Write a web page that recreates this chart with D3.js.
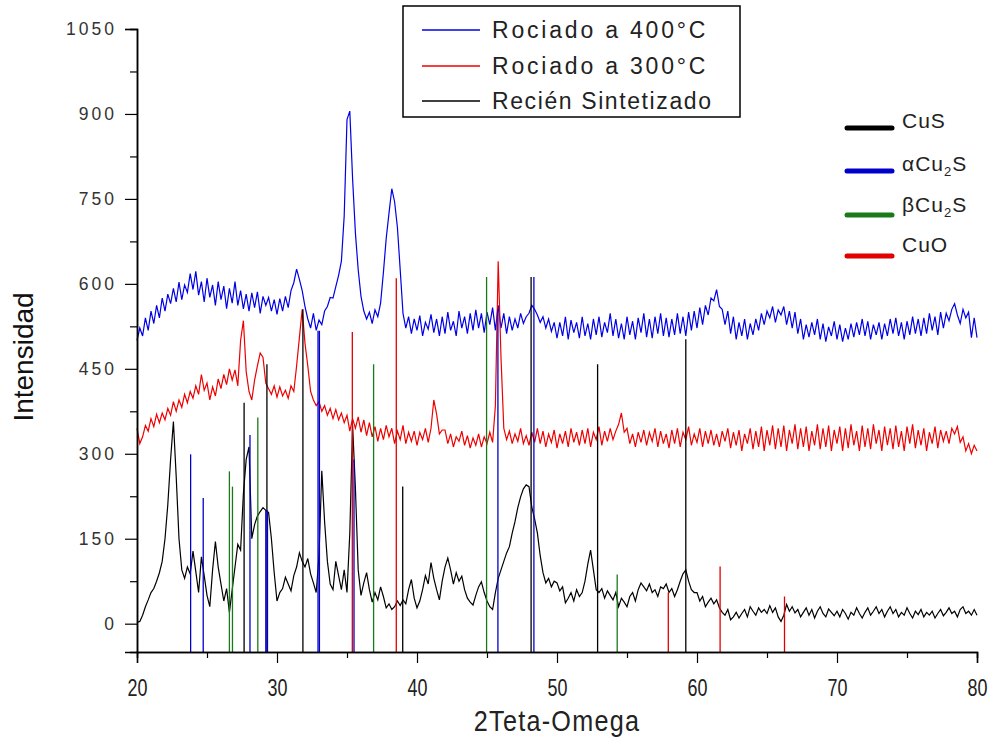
<!DOCTYPE html>
<html>
<head>
<meta charset="utf-8">
<script src="https://cdn.jsdelivr.net/npm/d3@7"></script>
<style>
  body { margin: 0; background: #fff; }
  svg { display: block; }
  text { font-family: "Liberation Sans", Arial, sans-serif; }
</style>
</head>
<body>
<div id="chart"></div>
<script>
// scan grid: 20 to 80 in 0.2 deg steps
const thetaStart = 20, thetaStep = 0.2;

// Rociado a 400°C
const rociado400 = [
  500, 522, 508, 540, 518, 552, 530, 562, 540, 575,
  552, 582, 565, 592, 568, 603, 572, 598, 585, 618,
  590, 622, 580, 604, 568, 610, 576, 598, 562, 604,
  572, 596, 556, 592, 566, 604, 562, 588, 556, 582,
  552, 584, 558, 586, 548, 578, 562, 576, 552, 572,
  546, 574, 552, 578, 558, 588, 602, 626, 608, 588,
  560, 538, 522, 548, 518, 536, 528, 552, 560, 576,
  575, 595, 615, 640, 720, 890, 905, 785, 690, 625,
  578, 552, 538, 550, 530, 554, 542, 566, 620, 680,
  725, 768, 745, 700, 625, 548, 522, 542, 512, 538,
  518, 544, 508, 532, 520, 546, 514, 538, 508, 542,
  512, 550, 518, 534, 508, 552, 522, 542, 512, 548,
  518, 554, 522, 548, 514, 550, 528, 558, 518, 562,
  522, 548, 512, 542, 518, 538, 522, 548, 530, 542,
  548, 562, 555, 545, 532, 542, 522, 538, 516, 532,
  504, 532, 508, 542, 502, 536, 514, 532, 504, 542,
  508, 530, 502, 538, 510, 542, 506, 532, 514, 548,
  508, 538, 504, 530, 502, 542, 510, 534, 502, 540,
  514, 548, 506, 538, 504, 542, 512, 548, 508, 540,
  506, 538, 510, 548, 512, 542, 508, 550, 518, 552,
  522, 558, 528, 562, 545, 575, 570, 590, 560, 555,
  528, 552, 512, 542, 502, 532, 508, 538, 502, 530,
  510, 538, 518, 548, 528, 552, 540, 560, 532, 554,
  545, 560, 528, 552, 522, 550, 512, 538, 502, 528,
  506, 532, 510, 538, 502, 530, 498, 524, 508, 534,
  502, 528, 498, 522, 502, 530, 506, 532, 510, 538,
  508, 534, 502, 528, 510, 532, 502, 530, 508, 538,
  512, 540, 508, 532, 502, 534, 510, 542, 512, 538,
  508, 540, 512, 548, 518, 542, 510, 550, 522, 548,
  535, 555, 565, 545, 530, 555, 540, 550, 505, 540,
  505
];

// Rociado a 300°C
const rociado300 = [
  345, 318, 330, 350, 340, 362, 348, 370, 355, 372,
  360, 380, 368, 392, 375, 395, 382, 405, 390, 410,
  398, 420, 405, 440, 412, 425, 395, 418, 402, 432,
  415, 440, 422, 450, 430, 448, 420, 500, 535, 445,
  410, 395, 430, 455, 478, 470, 425, 415, 405, 420,
  400, 418, 402, 412, 398, 420, 410, 455, 505, 555,
  495, 455, 410, 395, 385, 392, 375, 385, 368, 380,
  362, 378, 360, 372, 355, 368, 340, 362, 345, 365,
  338, 360, 332, 355, 330, 348, 322, 345, 325, 350,
  330, 345, 318, 340, 325, 350, 318, 338, 322, 340,
  315, 338, 325, 345, 320, 345, 395, 370, 335, 342,
  342, 318, 335, 312, 330, 322, 340, 315, 332, 310,
  328, 315, 335, 312, 330, 318, 338, 320, 385, 640,
  470, 345, 325, 340, 318, 335, 322, 345, 318, 332,
  315, 338, 320, 345, 318, 340, 312, 335, 320, 342,
  310, 335, 318, 340, 312, 345, 320, 338, 315, 342,
  318, 345, 312, 338, 325, 348, 315, 340, 322, 345,
  325, 340, 352, 372, 338, 345, 318, 335, 312, 338,
  320, 342, 315, 338, 322, 345, 312, 340, 318, 335,
  310, 342, 318, 345, 312, 338, 325, 348, 315, 335,
  320, 345, 312, 340, 318, 342, 315, 335, 312, 340,
  322, 345, 310, 338, 315, 342, 305, 335, 318, 345,
  308, 340, 312, 348, 305, 342, 315, 350, 308, 345,
  312, 350, 305, 342, 318, 352, 308, 345, 312, 348,
  305, 340, 315, 352, 308, 345, 312, 350, 305, 342,
  318, 348, 305, 345, 310, 352, 315, 340, 305, 350,
  312, 345, 308, 352, 318, 342, 305, 348, 315, 345,
  308, 350, 312, 340, 305, 348, 318, 352, 310, 342,
  315, 345, 305, 338, 318, 348, 310, 342, 322, 340,
  318, 345, 335, 348, 320, 330, 305, 318, 300, 315,
  305
];

// Recién Sintetizado
const recienSint = [
  2, 4, 15, 30, 42, 55, 62, 75, 90, 110,
  150, 210, 290, 357, 260, 150, 95, 80, 100, 88,
  128, 92, 55, 118, 85, 50, 30, 95, 145, 100,
  70, 40, 62, 20, 60, 100, 140, 130, 230, 290,
  312, 150, 175, 190, 198, 205, 200, 196, 150, 90,
  40, 55, 62, 82, 70, 58, 85, 100, 125, 110,
  100, 115, 88, 72, 55, 120, 270, 180, 110, 70,
  60, 110, 85, 60, 95, 55, 160, 350, 240, 95,
  50, 72, 90, 60, 38, 55, 42, 65, 48, 28,
  35, 25, 30, 40, 32, 42, 35, 60, 78, 45,
  28, 40, 60, 85, 70, 108, 80, 60, 42, 75,
  100, 116, 95, 70, 90, 75, 84, 60, 45, 38,
  33, 50, 65, 74, 55, 40, 30, 25, 55, 80,
  95, 110, 125, 136, 160, 180, 205, 224, 238, 245,
  242, 206, 185, 160, 120, 90, 72, 80, 65, 75,
  72, 58, 65, 37, 45, 55, 40, 60, 48, 55,
  75, 105, 130, 95, 60, 55, 62, 45, 58, 50,
  42, 55, 30, 45, 38, 30, 48, 55, 40, 60,
  72, 65, 58, 70, 55, 60, 48, 65, 62, 70,
  55, 62, 48, 60, 75, 88, 95, 75, 60, 55,
  55, 40, 48, 30, 38, 45, 35, 42, 28, 20,
  15, 25, 7, 12, 20, 10, 18, 25, 12, 30,
  22, 15, 28, 20, 25, 18, 32, 20, 28, 12,
  4, 15, 34, 22, 30, 19, 25, 12, 20, 28,
  15, 25, 10, 22, 30, 18, 12, 26, 20, 14,
  22, 12, 25, 18, 8, 20, 15, 28, 18, 10,
  20, 28, 15, 22, 30, 18, 25, 12, 22, 30,
  18, 25, 12, 20, 15, 28, 18, 10, 22, 16,
  25, 12, 20, 15, 22, 10, 18, 25, 14, 20,
  28, 18, 22, 12, 25, 30, 18, 22, 15, 25,
  15
];

// reference patterns: position (2theta) and stick height
const cusPos   = [27.65, 29.28, 31.85, 38.98, 48.15, 52.9, 59.2];
const cusH     = [390, 458, 555, 242, 612, 458, 502];
const aCu2SPos = [23.83, 24.73, 28.07, 29.2, 29.32, 32.93, 33.03, 35.5, 45.78, 48.35];
const aCu2SH   = [299, 222, 333, 200, 200, 517, 517, 290, 555, 612];
const bCu2SPos = [26.6, 26.82, 28.63, 36.9, 44.97, 54.3];
const bCu2SH   = [269, 242, 364, 458, 612, 87];
const cuoPos   = [35.38, 38.52, 57.95, 61.65, 66.25];
const cuoH     = [515, 610, 55, 101, 48];

const xTicks = [20, 30, 40, 50, 60, 70, 80];
const yTicks = [0, 150, 300, 450, 600, 750, 900, 1050];

const width = 990, height = 740;
const svg = d3.select("#chart").append("svg")
    .attr("width", width)
    .attr("height", height);

const x = d3.scaleLinear().domain([20, 80]).range([137, 977]);
const y = d3.scaleLinear().domain([-50, 1050]).range([652, 29]);

const theta = i => thetaStart + i * thetaStep;

// curves
const series = [
    { name: "Rociado a 400°C", values: rociado400, color: "#0000e6" },
    { name: "Rociado a 300°C", values: rociado300, color: "#ee0000" },
    { name: "Recién Sintetizado", values: recienSint, color: "#000000" }
];

const line = d3.line()
    .x((d, i) => x(theta(i)))
    .y(d => y(d));

svg.append("g")
    .selectAll("path")
    .data(series)
    .enter()
    .append("path")
    .attr("d", d => line(d.values))
    .attr("fill", "none")
    .attr("stroke", d => d.color)
    .attr("stroke-width", 1.2);

// sticks
const phases = [
    { pos: cusPos, h: cusH, color: "#000000" },
    { pos: aCu2SPos, h: aCu2SH, color: "#0000cc" },
    { pos: bCu2SPos, h: bCu2SH, color: "#1a7a1a" },
    { pos: cuoPos, h: cuoH, color: "#e00000" }
];

phases.forEach(p => {
    svg.append("g")
        .selectAll("line")
        .data(p.pos)
        .enter()
        .append("line")
        .attr("x1", d => x(d))
        .attr("x2", d => x(d))
        .attr("y1", y(-50))
        .attr("y2", (d, i) => y(p.h[i]))
        .attr("stroke", p.color)
        .attr("stroke-width", 1.3);
});

// axes
const xAxis = svg.append("g")
    .attr("transform", "translate(0," + y(-50) + ")")
    .call(d3.axisBottom(x).tickValues(xTicks).tickSize(11).tickPadding(17).tickFormat(d3.format("d")));
xAxis.append("g")
    .call(d3.axisBottom(x).tickValues(d3.range(25, 80, 10)).tickSize(6).tickFormat(""));

const yAxis = svg.append("g")
    .attr("transform", "translate(" + x(20) + ",0)")
    .call(d3.axisLeft(y).tickValues(yTicks).tickSize(12).tickPadding(8).tickFormat(d3.format("d")));
yAxis.append("g")
    .call(d3.axisLeft(y).tickValues(d3.range(75, 1050, 150)).tickSize(7).tickFormat(""));

svg.selectAll(".domain").attr("stroke", "#000").attr("stroke-width", 1.5);
svg.selectAll(".tick line").attr("stroke", "#000").attr("stroke-width", 1.2);

// narrow look for the x labels
xAxis.selectAll("text")
    .style("font-size", "23px")
    .attr("transform", "scale(0.78,1)")
    .attr("fill", "#222");
yAxis.selectAll("text")
    .style("font-size", "17.5px")
    .style("letter-spacing", "3px")
    .attr("fill", "#333");

// axis titles
svg.append("text")
    .attr("transform", "translate(557,731) scale(0.84,1)")
    .attr("text-anchor", "middle")
    .style("font-size", "30px")
    .style("letter-spacing", "1.5px")
    .attr("fill", "#222")
    .text("2Teta-Omega");

svg.append("text")
    .attr("transform", "translate(33,357) rotate(-90)")
    .attr("text-anchor", "middle")
    .style("font-size", "28px")
    .attr("fill", "#111")
    .text("Intensidad");

// legend for curves
const leg = svg.append("g");
leg.append("rect")
    .attr("x", 403).attr("y", 6)
    .attr("width", 337).attr("height", 111)
    .attr("fill", "#fff")
    .attr("stroke", "#000")
    .attr("stroke-width", 1.5);

const legRows = [30, 66, 101];
series.forEach((s, i) => {
    leg.append("line")
        .attr("x1", 422).attr("x2", 480)
        .attr("y1", legRows[i]).attr("y2", legRows[i])
        .attr("stroke", s.color)
        .attr("stroke-width", 1.3);
    leg.append("text")
        .attr("x", 492)
        .attr("y", legRows[i] + 8)
        .style("font-size", "23px")
        .style("letter-spacing", i == 2 ? "1.6px" : "2.8px")
        .attr("fill", "#222")
        .text(s.name);
});

// legend for reference patterns
const phaseLabels = [
    { main: "CuS", sub: "", tail: "", y: 128 },
    { main: "αCu", sub: "2", tail: "S", y: 171 },
    { main: "βCu", sub: "2", tail: "S", y: 212 },
    { main: "CuO", sub: "", tail: "", y: 252 }
];
const lineYs = [128, 171, 215, 256];

phaseLabels.forEach((p, i) => {
    svg.append("line")
        .attr("x1", 847).attr("x2", 892)
        .attr("y1", lineYs[i]).attr("y2", lineYs[i])
        .attr("stroke", phases[i].color)
        .attr("stroke-width", 5)
        .attr("stroke-linecap", "round");
    const t = svg.append("text")
        .attr("x", 902)
        .attr("y", p.y)
        .style("font-size", "21px")
        .style("letter-spacing", "1px")
        .attr("fill", "#222");
    t.append("tspan").text(p.main);
    if (p.sub) {
        t.append("tspan").attr("dy", 5).style("font-size", "13px").text(p.sub);
        t.append("tspan").attr("dy", -5).text(p.tail);
    }
});
</script>
</body>
</html>
